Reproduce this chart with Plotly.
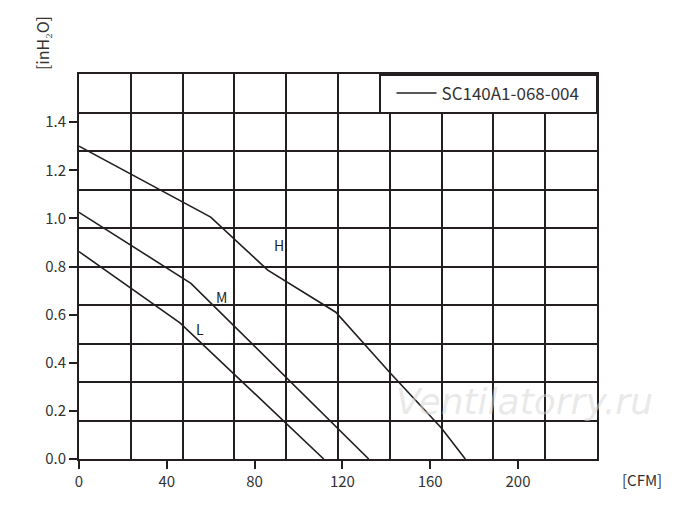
import plotly.graph_objects as go

# Data
h_cfm = [0, 60, 86, 117, 142, 165, 176]
h_inh2o = [1.30, 1.005, 0.785, 0.61, 0.355, 0.13, 0.0]
m_cfm = [0, 51, 132]
m_inh2o = [1.025, 0.73, 0.0]
l_cfm = [0, 46, 111.5]
l_inh2o = [0.862, 0.566, 0.0]

x_ticks = [0, 40, 80, 120, 160, 200]
y_ticks = [0.0, 0.2, 0.4, 0.6, 0.8, 1.0, 1.2, 1.4]
x_range = [0, 236]
y_range = [0, 1.6]
series_name = "SC140A1-068-004"
curve_labels = ["H", "M", "L"]
label_pos_cfm = [91, 65, 55]
label_pos_inh2o = [0.89, 0.675, 0.54]

INK = "#231f20"
TXT = "#333333"
FONT = "Noto Sans CJK SC"

fig = go.Figure()

fig.add_trace(go.Scatter(x=h_cfm, y=h_inh2o, mode="lines",
                         name=series_name + "\u00a0" * 3,
                         line=dict(color=INK, width=1.6), showlegend=True))
fig.add_trace(go.Scatter(x=m_cfm, y=m_inh2o, mode="lines",
                         line=dict(color=INK, width=1.6), showlegend=False))
fig.add_trace(go.Scatter(x=l_cfm, y=l_inh2o, mode="lines",
                         line=dict(color=INK, width=1.6), showlegend=False))
# invisible trace to activate the grid overlay axes
fig.add_trace(go.Scatter(x=x_range, y=y_range, xaxis="x2", yaxis="y2", mode="markers",
                         marker=dict(opacity=0), showlegend=False, hoverinfo="skip"))

for t, xx, yy in zip(curve_labels, label_pos_cfm, label_pos_inh2o):
    fig.add_annotation(x=xx, y=yy, text=t, showarrow=False,
                       font=dict(family=FONT, size=14, color=INK))

fig.add_annotation(xref="paper", yref="paper", x=-0.0714, y=1.005, text="[inH₂O]",
                   textangle=-90, showarrow=False, xanchor="center", yanchor="bottom",
                   font=dict(family=FONT, size=16, color=TXT))
fig.add_annotation(xref="paper", yref="paper", x=1.044, y=-0.052, text="[CFM]",
                   showarrow=False, xanchor="left", yanchor="middle",
                   font=dict(family=FONT, size=15, color=TXT))
fig.add_annotation(xref="paper", yref="paper", x=0.86, y=0.15, text="<i>Ventilatorry.ru</i>",
                   showarrow=False, xanchor="center", yanchor="middle",
                   font=dict(family="DejaVu Sans", size=36, color="rgba(215,215,215,0.55)"))

fig.update_layout(
    width=700, height=508,
    margin=dict(l=71, r=111, t=66, b=57),
    paper_bgcolor="white", plot_bgcolor="white",
    font=dict(family=FONT, size=15, color=TXT),
    xaxis=dict(range=x_range, tickvals=x_ticks, showgrid=False, zeroline=False,
               showline=True, linecolor=INK, linewidth=2, mirror=True,
               ticks="outside", ticklen=8, tickwidth=2, tickcolor=INK,
               tickfont=dict(size=15, color=TXT)),
    yaxis=dict(range=y_range, tickvals=y_ticks, tickformat=".1f", showgrid=False,
               zeroline=False, showline=True, linecolor=INK, linewidth=2, mirror=True,
               ticks="outside", ticklen=8, tickwidth=2, tickcolor=INK,
               tickfont=dict(size=15, color=TXT)),
    xaxis2=dict(range=x_range, overlaying="x", anchor="y2", tick0=0, dtick=23.6,
                showgrid=True, gridcolor=INK, gridwidth=2, showticklabels=False,
                ticks="", zeroline=False, showline=False),
    yaxis2=dict(range=y_range, overlaying="y", anchor="x2", tick0=0, dtick=0.16,
                showgrid=True, gridcolor=INK, gridwidth=2, showticklabels=False,
                ticks="", zeroline=False, showline=False),
    legend=dict(x=1, y=1, xanchor="right", yanchor="top", bgcolor="white",
                bordercolor=INK, borderwidth=1.5,
                font=dict(family=FONT, size=17, color=TXT),
                itemwidth=40, tracegroupgap=0, indentation=11),
    showlegend=True,
)

fig.write_html("out.html")
